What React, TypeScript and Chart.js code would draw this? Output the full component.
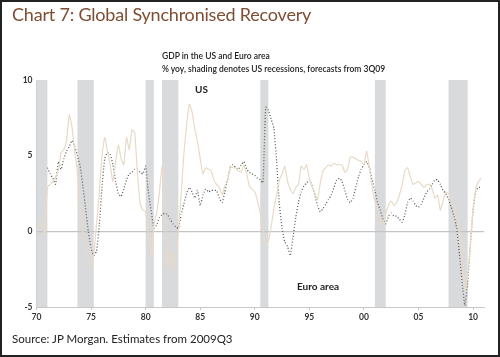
import React, { useEffect, useRef } from "react";
import { Chart, registerables } from "chart.js";

Chart.register(...registerables);

// ---- Data (quarterly, % yoy) ----
const usStartYear = 1970;
const euroStartYear = 1971;

const usGdp = [
  0.3, 0.4, 0.5, -0.2, // 1970
  2.9, 3.1, 3.3, 3.6, // 1971
  4.0, 5.2, 5.4, 6.0, // 1972
  7.7, 6.9, 5.3, 3.9, // 1973
  1.5, -0.1, -0.8, -1.9, // 1974
  -2.3, -1.6, 0.5, 2.5, // 1975
  5.0, 6.2, 5.3, 4.4, // 1976
  3.3, 4.6, 5.7, 4.8, // 1977
  4.4, 6.2, 5.4, 6.7, // 1978
  6.5, 3.8, 1.8, 1.4, // 1979
  1.3, -0.2, -1.6, 0.4, // 1980
  1.2, 2.5, 4.3, 3.0, // 1981
  -2.4, -1.2, -2.6, -1.6, // 1982
  0.0, 2.4, 5.1, 7.0, // 1983
  8.4, 7.9, 6.8, 5.9, // 1984
  4.8, 3.8, 4.2, 4.1, // 1985
  4.0, 3.4, 3.1, 2.9, // 1986
  2.4, 3.0, 3.3, 4.3, // 1987
  4.2, 4.2, 4.0, 3.9, // 1988
  4.4, 3.8, 3.0, 2.8, // 1989
  2.6, 2.0, 1.2, 0.0, // 1990
  -0.9, -0.6, 0.3, 1.5, // 1991
  2.4, 3.4, 3.8, 4.3, // 1992
  3.3, 2.8, 2.5, 2.9, // 1993
  3.1, 4.3, 4.1, 4.4, // 1994
  3.5, 2.9, 2.5, 2.1, // 1995
  3.2, 4.0, 4.2, 4.4, // 1996
  4.3, 4.5, 4.4, 4.4, // 1997
  4.4, 3.9, 4.1, 4.9, // 1998
  4.9, 4.8, 4.7, 4.6, // 1999
  4.4, 5.3, 4.2, 2.9, // 2000
  2.0, 1.3, 0.8, 0.5, // 2001
  1.2, 1.7, 2.0, 1.7, // 2002
  1.9, 2.4, 3.1, 4.0, // 2003
  4.2, 3.6, 3.1, 3.2, // 2004
  3.3, 3.1, 2.9, 3.1, // 2005
  3.1, 2.8, 2.2, 2.4, // 2006
  1.4, 2.0, 2.6, 2.5, // 2007
  2.2, 1.7, 1.1, 0.0, // 2008
  -1.7, -3.9, -2.9, -0.9, // 2009
  1.5, 2.8, 3.3, 3.5, // 2010
];

const euroGdp = [
  4.2, 3.8, 3.5, 3.1, // 1971
  4.6, 4.1, 4.8, 5.3, // 1972
  5.6, 6.0, 5.6, 5.0, // 1973
  4.3, 3.0, 1.5, 0.0, // 1974
  -1.1, -1.6, -1.3, 0.4, // 1975
  2.9, 4.8, 5.2, 5.1, // 1976
  4.4, 3.3, 2.5, 2.3, // 1977
  2.8, 3.4, 3.8, 3.9, // 1978
  4.1, 4.1, 3.9, 3.8, // 1979
  4.3, 2.6, 1.4, 0.2, // 1980
  0.4, 0.9, 1.1, 1.2, // 1981
  1.1, 0.8, 0.5, 0.3, // 1982
  0.2, 1.1, 1.8, 2.5, // 1983
  2.9, 2.6, 2.2, 2.7, // 1984
  1.7, 2.4, 2.8, 2.6, // 1985
  2.7, 2.7, 2.7, 2.2, // 1986
  1.9, 2.6, 3.4, 4.2, // 1987
  4.4, 4.2, 4.1, 4.4, // 1988
  4.6, 4.1, 3.9, 3.8, // 1989
  3.7, 3.5, 3.4, 3.2, // 1990
  8.2, 8.0, 7.4, 6.8, // 1991
  4.6, 1.8, 0.2, -0.7, // 1992
  -1.0, -1.6, -0.4, 0.9, // 1993
  1.9, 2.6, 3.0, 3.2, // 1994
  3.4, 3.0, 2.4, 1.7, // 1995
  1.3, 1.5, 1.8, 2.1, // 1996
  2.4, 2.9, 3.4, 3.5, // 1997
  3.3, 2.7, 2.1, 1.9, // 1998
  2.2, 2.9, 3.6, 4.1, // 1999
  4.4, 4.6, 4.2, 3.4, // 2000
  2.7, 1.9, 1.4, 0.8, // 2001
  0.5, 1.0, 1.2, 1.0, // 2002
  1.0, 0.8, 0.6, 1.1, // 2003
  1.9, 2.2, 2.0, 1.7, // 2004
  1.6, 1.8, 2.2, 2.6, // 2005
  2.8, 3.1, 3.4, 3.4, // 2006
  3.1, 2.7, 2.5, 2.1, // 2007
  1.6, 1.0, 0.2, -1.5, // 2008
  -3.4, -4.9, -3.4, -0.9, // 2009
  1.4, 2.7, 2.9, 2.9, // 2010
];

// US recessions (shading), in fractional years
const recessionStart = [1970.0, 1973.75, 1980.0, 1981.5, 1990.5, 2001.0, 2007.75];
const recessionEnd = [1971.0, 1975.25, 1980.75, 1983.0, 1991.25, 2002.0, 2009.5];

const xTickYears = [1970, 1975, 1980, 1985, 1990, 1995, 2000, 2005, 2010];
const xTickLabels = ["70", "75", "80", "85", "90", "95", "00", "05", "10"];
const yTickValues = [-5, 0, 5, 10];

const FONT = "Lato, 'Open Sans', sans-serif";

const toPoints = (start: number, values: number[]) =>
  values.map((v, i) => ({ x: start + i / 4, y: v }));

const recessionPlugin = {
  id: "recessionBands",
  beforeDraw(chart: any) {
    const { ctx, chartArea, scales } = chart;
    const xs = scales.x;
    ctx.save();
    ctx.fillStyle = "#d9dadc";
    for (let i = 0; i < recessionStart.length; i++) {
      const x0 = xs.getPixelForValue(recessionStart[i]);
      const x1 = xs.getPixelForValue(recessionEnd[i]);
      ctx.fillRect(x0, chartArea.top, x1 - x0, chartArea.bottom - chartArea.top);
    }
    ctx.restore();
  },
};

export default function App() {
  const canvasRef = useRef<HTMLCanvasElement | null>(null);

  useEffect(() => {
    if (!canvasRef.current) return;
    const chart = new Chart(canvasRef.current, {
      type: "line",
      data: {
        datasets: [
          {
            label: "US",
            data: toPoints(usStartYear, usGdp),
            borderColor: "#e8dac6",
            borderWidth: 1.2,
            pointRadius: 0,
            tension: 0.15,
            fill: false,
          },
          {
            label: "Euro area",
            data: toPoints(euroStartYear, euroGdp),
            borderColor: "#606060",
            borderWidth: 1.3,
            borderDash: [1, 2],
            pointRadius: 0,
            tension: 0.15,
            fill: false,
          },
        ],
      },
      options: {
        responsive: false,
        maintainAspectRatio: false,
        animation: false,
        devicePixelRatio: 1,
        layout: { padding: { left: 0, top: 80, right: 16, bottom: 30 } },
        plugins: {
          legend: { display: false },
          title: { display: false },
          tooltip: { enabled: false },
        },
        scales: {
          x: {
            type: "linear",
            min: 1970,
            max: 2011,
            afterBuildTicks: (scale: any) => {
              scale.ticks = xTickYears.map((v) => ({ value: v }));
            },
            afterFit: (scale: any) => {
              scale.height = 20;
            },
            ticks: {
              callback: (v: any) => {
                const i = xTickYears.indexOf(Number(v));
                return i >= 0 ? xTickLabels[i] : "";
              },
              font: { family: FONT, size: 8.5, weight: "bold" },
              color: "#333",
              padding: 2,
              maxRotation: 0,
              autoSkip: false,
            },
            grid: {
              drawOnChartArea: false,
              drawTicks: true,
              tickLength: 3,
              color: "#c8c8c8",
            },
            border: { display: true, color: "#c8c8c8", width: 1 },
          },
          y: {
            min: -5,
            max: 10,
            afterBuildTicks: (scale: any) => {
              scale.ticks = yTickValues.map((v) => ({ value: v }));
            },
            afterFit: (scale: any) => {
              scale.width = 36.5;
            },
            ticks: {
              font: { family: FONT, size: 8.5, weight: "bold" },
              color: "#333",
              padding: 4,
            },
            grid: {
              drawTicks: false,
              lineWidth: 1.2,
              color: (ctx: any) =>
                ctx.tick && ctx.tick.value === 0 ? "#c4c4c4" : "rgba(0,0,0,0)",
            },
            border: { display: true, color: "#d0d0d0", width: 1 },
          },
        },
      },
      plugins: [recessionPlugin],
    });
    return () => chart.destroy();
  }, []);

  const textBase: React.CSSProperties = {
    position: "absolute",
    fontFamily: FONT,
    whiteSpace: "nowrap",
    margin: 0,
  };

  return (
    <div
      style={{
        position: "absolute",
        left: 0,
        top: 0,
        width: 500,
        height: 357,
        background: "#fff",
        overflow: "hidden",
      }}
    >
      <canvas
        ref={canvasRef}
        width={500}
        height={357}
        style={{ position: "absolute", left: 0, top: 0, width: 500, height: 357 }}
      />
      <div
        style={{
          ...textBase,
          left: 12,
          top: 5,
          fontSize: 18,
          lineHeight: "18px",
          letterSpacing: "-0.2px",
          color: "#7d4e33",
        }}
      >
        Chart 7: Global Synchronised Recovery
      </div>
      <div
        style={{
          ...textBase,
          left: 162,
          top: 50,
          fontSize: 8.5,
          lineHeight: "13px",
          color: "#222",
          fontWeight: 600,
        }}
      >
        GDP in the US and Euro area
        <br />
        % yoy, shading denotes US recessions, forecasts from 3Q09
      </div>
      <div
        style={{
          ...textBase,
          left: 195,
          top: 84,
          fontSize: 10,
          lineHeight: "10px",
          color: "#222",
          fontWeight: 700,
        }}
      >
        US
      </div>
      <div
        style={{
          ...textBase,
          left: 297,
          top: 281,
          fontSize: 10,
          lineHeight: "10px",
          color: "#222",
          fontWeight: 700,
        }}
      >
        Euro area
      </div>
      <div
        style={{
          ...textBase,
          left: 12,
          top: 333,
          fontSize: 11.5,
          lineHeight: "11.5px",
          color: "#222",
        }}
      >
        Source: JP Morgan. Estimates from 2009Q3
      </div>
      <div
        style={{
          position: "absolute",
          left: 0,
          top: 0,
          width: 500,
          height: 357,
          boxSizing: "border-box",
          border: "2px solid #222",
          pointerEvents: "none",
        }}
      />
    </div>
  );
}
